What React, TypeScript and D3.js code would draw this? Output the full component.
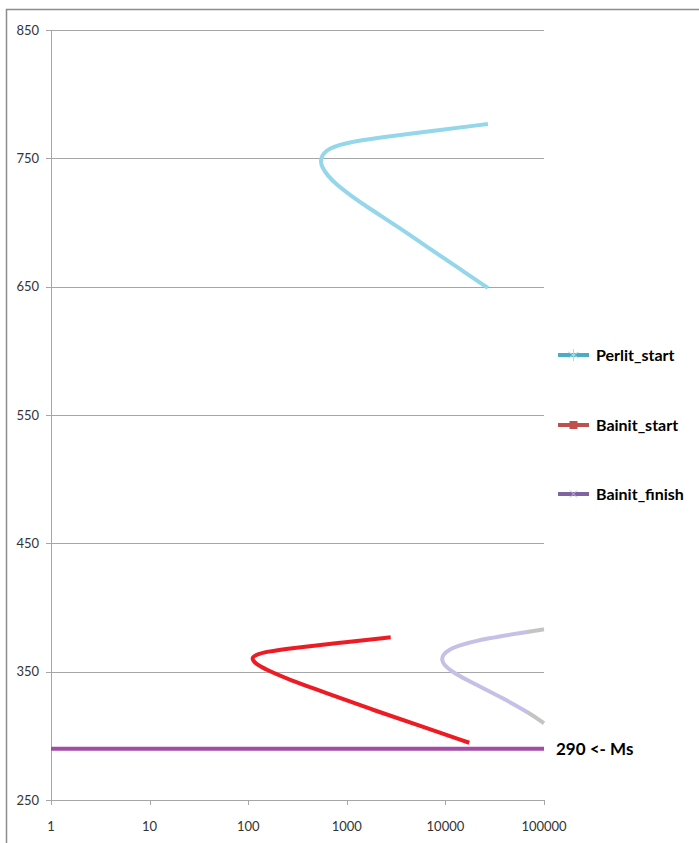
import React, { useEffect, useRef } from 'react';
import * as d3 from 'd3';

// time [s] on log axis, temperature [°C]
const perlitTime = [27000, 7480, 2330, 915, 601, 535, 560, 630, 796, 1077, 1603, 3467, 7480, 14060, 27000];
const perlitTemp = [776.8, 771.3, 766.6, 761.9, 756.5, 748.7, 743.2, 737, 729.2, 721.4, 712.1, 695.7, 677.8, 663.8, 649];

const bainitStartTime = [2787, 853, 265, 154, 117, 108, 117, 154, 265, 574, 1845, 5930, 17470];
const bainitStartTemp = [376.8, 372.6, 368.2, 365.6, 363, 360.4, 356.5, 351.3, 343.5, 334.4, 320.1, 307.1, 294.6];

const bainitFinishTime = [100000, 69300, 26240, 14060, 10700, 9390, 9180, 9680, 11580, 17760, 38650, 72100, 100000];
const bainitFinishTemp = [383, 381.1, 376, 370.8, 366.9, 363, 359.1, 355.2, 350, 342.2, 329.2, 317.5, 309.8];

const msTemp = 290;
const xTicks = [1, 10, 100, 1000, 10000, 100000];
const yTicks = [250, 350, 450, 550, 650, 750, 850];
const legendNames = ['Perlit_start', 'Bainit_start', 'Bainit_finish'];
const legendColors = ['#4bacc6', '#c0504d', '#8064a2'];

const App: React.FC = () => {
  const ref = useRef<SVGSVGElement>(null);

  useEffect(() => {
    const width = 699, height = 843;
    const svg = d3.select(ref.current).attr('width', width).attr('height', height);
    svg.selectAll('*').remove();

    const x = d3.scaleLog().domain([1, 100000]).range([51, 544]);
    const y = d3.scaleLinear().domain([250, 850]).range([800, 30]);

    // outer frame
    svg.append('path')
      .attr('d', `M6.5,${height} V9.5 H${width}`)
      .attr('fill', 'none')
      .attr('stroke', '#8c8c8c')
      .attr('stroke-width', 1.5);

    // gridlines
    svg.append('g').selectAll('line').data(yTicks.slice(1)).join('line')
      .attr('x1', 51).attr('x2', 544)
      .attr('y1', d => Math.round(y(d)) + 0.5).attr('y2', d => Math.round(y(d)) + 0.5)
      .attr('stroke', '#a6a6a6').attr('stroke-width', 1);

    // y axis
    svg.append('line').attr('x1', 51.5).attr('x2', 51.5).attr('y1', 30).attr('y2', 800)
      .attr('stroke', '#a6a6a6');
    svg.append('g').selectAll('line').data(yTicks).join('line')
      .attr('x1', 46).attr('x2', 51)
      .attr('y1', d => Math.round(y(d)) + 0.5).attr('y2', d => Math.round(y(d)) + 0.5)
      .attr('stroke', '#a6a6a6');
    svg.append('g').selectAll('text').data(yTicks).join('text')
      .attr('x', 39).attr('y', d => y(d))
      .attr('dy', '0.35em')
      .attr('text-anchor', 'end')
      .style('font-family', 'Lato')
      .style('font-size', '13px')
      .attr('fill', '#333')
      .text(d => d);

    // x axis
    svg.append('line').attr('x1', 51).attr('x2', 544).attr('y1', 800.5).attr('y2', 800.5)
      .attr('stroke', '#a6a6a6');
    svg.append('g').selectAll('line').data(xTicks).join('line')
      .attr('x1', d => Math.round(x(d)) + 0.5).attr('x2', d => Math.round(x(d)) + 0.5)
      .attr('y1', 800).attr('y2', 805)
      .attr('stroke', '#a6a6a6');
    svg.append('g').selectAll('text').data(xTicks).join('text')
      .attr('x', d => x(d)).attr('y', 831)
      .attr('text-anchor', 'middle')
      .style('font-family', 'Lato')
      .style('font-size', '13px')
      .attr('fill', '#333')
      .text(d => d);

    const line = d3.line<[number, number]>()
      .x(d => x(d[0]))
      .y(d => y(d[1]))
      .curve(d3.curveBasis);

    // Ms line
    svg.append('line')
      .attr('x1', x(1)).attr('x2', x(100000))
      .attr('y1', y(msTemp)).attr('y2', y(msTemp))
      .attr('stroke', '#a24ca6').attr('stroke-width', 4);
    svg.append('text')
      .attr('x', 556).attr('y', y(msTemp))
      .attr('dy', '0.35em')
      .style('font-family', 'Lato')
      .style('font-weight', 'bold')
      .style('font-size', '17px')
      .attr('fill', '#000')
      .text(`${msTemp} <- Ms`);

    // bainit finish with grey tail past ~65000
    const grad = svg.append('defs').append('linearGradient')
      .attr('id', 'bfGrad')
      .attr('gradientUnits', 'userSpaceOnUse')
      .attr('x1', x(10000)).attr('x2', x(100000))
      .attr('y1', 0).attr('y2', 0);
    grad.append('stop').attr('offset', 0.82).attr('stop-color', '#c6c0e6');
    grad.append('stop').attr('offset', 0.85).attr('stop-color', '#c4c4c4');

    const series = [
      { t: perlitTime, v: perlitTemp, color: '#94d6ea' },
      { t: bainitStartTime, v: bainitStartTemp, color: '#ed1c24' },
      { t: bainitFinishTime, v: bainitFinishTemp, color: 'url(#bfGrad)' },
    ];
    series.forEach(s => {
      svg.append('path')
        .attr('d', line(s.t.map((t, i) => [t, s.v[i]] as [number, number])))
        .attr('fill', 'none')
        .attr('stroke', s.color)
        .attr('stroke-width', 4)
        .attr('stroke-linejoin', 'round')
        .attr('stroke-linecap', 'butt');
    });

    // legend
    const legendY = [355, 425, 494];
    legendNames.forEach((name, i) => {
      const g = svg.append('g').attr('transform', `translate(558, ${legendY[i]})`);
      g.append('line').attr('x1', 0).attr('x2', 31).attr('y1', 0).attr('y2', 0)
        .attr('stroke', legendColors[i]).attr('stroke-width', 4);
      if (i === 0) {
        [0, 60, 120].forEach(a => {
          const r = (a * Math.PI) / 180;
          g.append('line')
            .attr('x1', 15.5 - 6 * Math.sin(r)).attr('x2', 15.5 + 6 * Math.sin(r))
            .attr('y1', -6 * Math.cos(r)).attr('y2', 6 * Math.cos(r))
            .attr('stroke', '#a9dcea').attr('stroke-width', 1);
        });
      } else if (i === 1) {
        g.append('rect').attr('x', 11.5).attr('y', -4).attr('width', 8).attr('height', 8)
          .attr('fill', legendColors[i]);
      } else {
        [45, 135].forEach(a => {
          const r = (a * Math.PI) / 180;
          g.append('line')
            .attr('x1', 15.5 - 5 * Math.sin(r)).attr('x2', 15.5 + 5 * Math.sin(r))
            .attr('y1', -5 * Math.cos(r)).attr('y2', 5 * Math.cos(r))
            .attr('stroke', '#c3b6d8').attr('stroke-width', 1);
        });
      }
      g.append('text')
        .attr('x', 38).attr('y', 0).attr('dy', '0.35em')
        .style('font-family', 'Lato')
        .style('font-weight', 'bold')
        .style('font-size', '16px')
        .attr('fill', '#000')
        .text(name);
    });
  }, []);

  return <svg ref={ref} style={{ position: 'absolute', left: 0, top: 0, background: '#fff' }}></svg>;
};

export default App;
